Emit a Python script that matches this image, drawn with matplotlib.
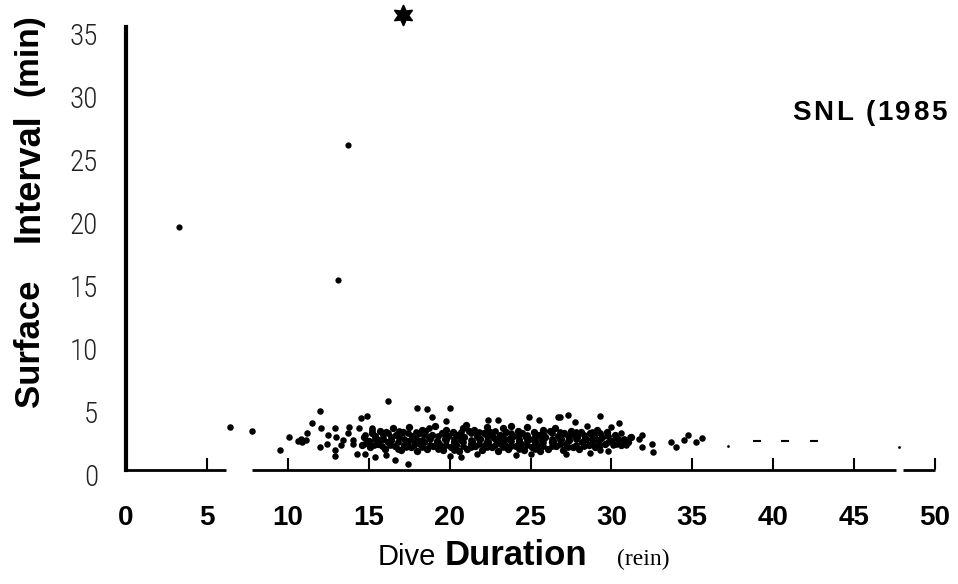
import matplotlib
matplotlib.use("Agg")
import matplotlib.pyplot as plt
import matplotlib.transforms as mtransforms
from matplotlib import font_manager
import numpy as np

# ---------------------------------------------------------------------------
# Data (dive duration, surface interval; minutes)
# ---------------------------------------------------------------------------
# isolated long surface intervals
outlier_pts = [(3.3, 19.3), (13.7, 25.8), (13.1, 15.1)]
star_pt = (17.1, 36.1)

# sparse dives around the main band
sparse_pts = [
    (6.4, 3.4), (7.8, 3.1), (9.5, 1.6), (10.1, 2.6), (12.0, 4.7), (11.5, 3.75),
    (12.05, 3.3), (11.2, 2.9), (10.6, 2.3), (10.9, 2.2), (11.1, 2.4), (10.8, 2.5),
    (12.9, 3.3), (12.5, 2.8), (12.4, 2.1), (12.0, 1.85), (12.9, 1.6), (12.9, 1.1),
    (13.4, 2.4), (13.8, 3.4), (14.5, 4.1), (14.9, 4.3), (14.4, 3.3), (15.2, 3.35),
    (14.05, 2.1), (14.7, 2.1), (14.3, 1.3), (14.8, 1.3), (15.4, 1.05), (15.5, 2.5),
    (13.0, 2.6), (13.3, 2.0), (13.7, 2.9), (14.0, 2.4),
    (16.2, 5.5), (18.0, 4.95), (18.6, 4.85), (20.0, 4.9), (18.9, 4.2), (19.8, 3.9),
    (22.4, 3.95), (23.0, 4.0), (24.9, 4.2), (25.5, 4.0), (26.7, 4.2),
    (16.1, 1.2), (16.6, 0.8), (17.4, 0.5), (20.0, 1.1), (20.7, 1.05), (21.7, 1.3),
    (24.1, 1.2), (25.0, 1.3),
    (26.8, 4.2), (27.3, 4.4), (29.3, 4.3), (27.75, 3.8), (28.5, 3.5), (30.0, 3.45),
    (30.5, 3.7), (30.6, 2.9), (31.15, 2.65), (31.9, 2.8), (31.7, 2.5), (32.5, 2.1),
    (31.9, 1.85), (32.6, 1.45), (33.7, 2.25), (34.0, 1.85), (34.5, 2.4), (34.75, 2.8),
    (35.2, 2.2), (35.6, 2.55), (27.2, 1.25), (28.7, 1.35), (29.3, 1.6), (29.8, 1.5),
    (30.1, 2.0), (30.9, 2.0),
]

# dense band of dives
band_pts = [
    (14.6, 2.0), (14.7, 2.6),
    (15.1, 1.8), (15.0, 2.3), (15.2, 2.9),
    (15.6, 2.1), (15.4, 2.7), (15.7, 3.1),
    (16.0, 1.7), (16.2, 2.2), (15.9, 2.5), (16.1, 3.0),
    (16.6, 1.9), (16.4, 2.4), (16.7, 2.8), (16.5, 3.3),
    (17.0, 1.6), (17.2, 2.0), (16.9, 2.6), (17.1, 3.0),
    (17.6, 1.8), (17.4, 2.3), (17.7, 2.7), (17.5, 3.4),
    (18.0, 1.5), (18.2, 2.1), (17.9, 2.5), (18.1, 2.9), (18.3, 3.2),
    (18.6, 1.7), (18.4, 2.2), (18.7, 2.6), (18.5, 3.1),
    (19.0, 1.9), (19.2, 2.3), (18.9, 2.8), (19.1, 3.5),
    (19.6, 1.6), (19.4, 2.0), (19.7, 2.5), (19.5, 2.9), (19.8, 3.2),
    (20.1, 1.8), (20.3, 2.2), (19.9, 2.7), (20.2, 3.0),
    (20.6, 1.5), (20.4, 2.0), (20.7, 2.4), (20.5, 2.8), (20.8, 3.3),
    (21.1, 1.7), (21.3, 2.1), (20.9, 2.6), (21.2, 3.1), (21.0, 3.6),
    (21.6, 1.9), (21.4, 2.3), (21.7, 2.7), (21.5, 3.2),
    (22.0, 1.6), (22.2, 2.0), (21.9, 2.5), (22.1, 2.9), (22.3, 3.4),
    (22.6, 1.8), (22.4, 2.2), (22.7, 2.6), (22.5, 3.0),
    (23.0, 1.5), (23.2, 2.1), (22.9, 2.4), (23.1, 2.8), (23.3, 3.3),
    (23.6, 1.7), (23.4, 2.0), (23.7, 2.5), (23.5, 3.0), (23.8, 3.5),
    (24.1, 1.9), (24.3, 2.3), (23.9, 2.7), (24.2, 3.1),
    (24.6, 1.6), (24.4, 2.1), (24.7, 2.6), (24.5, 2.9), (24.8, 3.4),
    (25.1, 1.8), (25.3, 2.2), (24.9, 2.5), (25.2, 3.0),
    (25.6, 1.5), (25.4, 2.0), (25.7, 2.4), (25.5, 2.8), (25.8, 3.2),
    (26.1, 1.7), (26.3, 2.2), (25.9, 2.6), (26.2, 3.1),
    (26.6, 1.9), (26.4, 2.3), (26.7, 2.7), (26.5, 3.3),
    (27.0, 1.6), (27.2, 2.1), (26.9, 2.5), (27.1, 2.9),
    (27.6, 1.8), (27.4, 2.4), (27.7, 2.8), (27.5, 3.1),
    (28.0, 1.7), (28.2, 2.2), (27.9, 2.6), (28.1, 3.0),
    (28.6, 2.0), (28.4, 2.5), (28.7, 2.9),
    (29.0, 1.8), (29.2, 2.3), (28.9, 2.7), (29.1, 3.2),
    (29.6, 2.1), (29.4, 2.6), (29.7, 3.0),
    (30.0, 2.3), (30.2, 2.8),
    (30.6, 2.0), (30.4, 2.5),
    (31.0, 2.2), (31.2, 2.6),
]

# in-between dives that make the band look solid
band_fill_pts = [
    (14.9, 2.2), (14.8, 2.8),
    (15.3, 2.0), (15.4, 2.5), (15.2, 3.2),
    (15.8, 1.9), (15.7, 2.4), (15.9, 2.8),
    (16.3, 2.0), (16.4, 2.6), (16.2, 2.9),
    (16.8, 1.7), (16.8, 2.2), (16.9, 3.1),
    (17.3, 1.8), (17.2, 2.5), (17.4, 2.9),
    (17.8, 2.0), (17.8, 2.4), (17.9, 3.0),
    (18.3, 1.8), (18.3, 2.4), (18.4, 2.8),
    (18.8, 2.0), (18.8, 2.5), (18.7, 3.3),
    (19.3, 1.7), (19.3, 2.2), (19.3, 2.7),
    (19.8, 2.0), (19.8, 2.4), (19.8, 2.8),
    (20.3, 1.6), (20.3, 2.5), (20.3, 2.9),
    (20.8, 1.9), (20.8, 2.2), (20.7, 3.0),
    (21.3, 1.8), (21.3, 2.4), (21.3, 2.9),
    (21.8, 2.1), (21.8, 2.5), (21.8, 3.0),
    (22.3, 1.8), (22.3, 2.3), (22.3, 2.7),
    (22.8, 2.0), (22.8, 2.5), (22.8, 3.1),
    (23.3, 1.8), (23.3, 2.3), (23.3, 2.6),
    (23.8, 1.9), (23.8, 2.3), (23.8, 2.9),
    (24.3, 1.7), (24.3, 2.5), (24.3, 2.8),
    (24.8, 2.0), (24.8, 2.3), (24.8, 2.8),
    (25.3, 1.7), (25.3, 2.5), (25.3, 2.7),
    (25.8, 1.9), (25.8, 2.2), (25.8, 2.9),
    (26.3, 1.9), (26.3, 2.5), (26.3, 2.9),
    (26.8, 2.1), (26.8, 2.4), (26.8, 3.0),
    (27.3, 1.8), (27.3, 2.3), (27.3, 2.7),
    (27.8, 2.0), (27.8, 2.5), (27.8, 3.0),
    (28.3, 1.9), (28.3, 2.4), (28.3, 2.8),
    (28.8, 2.1), (28.8, 2.5), (28.8, 3.0),
    (29.3, 2.0), (29.3, 2.5), (29.3, 2.9),
    (29.8, 2.2), (29.8, 2.7),
    (30.3, 2.1), (30.3, 2.6),
    (30.8, 2.3), (30.8, 2.5),
]

# faint marks in the long-dive tail
tail_dash_pts = [(39.0, 2.3), (40.7, 2.3), (42.5, 2.3)]
tail_dot_pts = [(37.2, 1.9), (47.8, 1.85)]

x_ticks = [0, 5, 10, 15, 20, 25, 30, 35, 40, 45, 50]
y_ticks = [0, 5, 10, 15, 20, 25, 30, 35]

# x axis line is broken in the scan
x_axis_segments = [(0, 6.2), (7.8, 47.6), (48.0, 50)]

# ---------------------------------------------------------------------------
# Figure
# ---------------------------------------------------------------------------
names = {f.name for f in font_manager.fontManager.ttflist}
narrow = "DejaVu Sans"
for cand in ["Liberation Sans Narrow", "DejaVu Sans Condensed", "Roboto Condensed"]:
    if cand in names:
        narrow = cand
        break
sans = "Liberation Sans"

fig = plt.figure(figsize=(9.58, 5.84), dpi=100)
ax = fig.add_axes([126 / 958, 114 / 584, 809 / 958, 466 / 584])
ax.set_xlim(0, 50)
ax.set_ylim(0, 37)

for side in ["top", "right", "bottom"]:
    ax.spines[side].set_visible(False)
ax.spines["left"].set_bounds(0, 35.2)
ax.spines["left"].set_linewidth(3)

for x0, x1 in x_axis_segments:
    ax.plot([x0, x1], [0, 0], color="black", lw=2, clip_on=False, solid_capstyle="butt")

# points
for pts, size in [(band_pts, 28), (band_fill_pts, 24), (sparse_pts, 22), (outlier_pts, 20)]:
    arr = np.array(pts)
    ax.scatter(arr[:, 0], arr[:, 1], s=size, c="black", linewidths=0, clip_on=False)

arr = np.array(tail_dash_pts)
ax.scatter(arr[:, 0], arr[:, 1], marker="_", s=40, c="black", linewidths=1.5)
arr = np.array(tail_dot_pts)
ax.scatter(arr[:, 0], arr[:, 1], s=4, c="black", linewidths=0)

ax.plot([star_pt[0]], [star_pt[1]], marker=(6, 1, 0), ms=15, color="black",
        clip_on=False)

# ticks
ax.set_xticks(x_ticks)
ax.set_xticklabels([str(v) for v in x_ticks], fontsize=20, fontweight="bold",
                   family=sans)
ax.tick_params(axis="x", direction="in", length=9, width=1.5, pad=25)

ax.set_yticks(y_ticks)
ax.set_yticklabels([str(v) for v in y_ticks], fontsize=21, family=narrow,
                   fontstretch="condensed", fontweight="light", color="#222222")
ax.tick_params(axis="y", which="major", length=0, pad=20)
ax.set_yticks([5], minor=True)
ax.tick_params(axis="y", which="minor", direction="in", length=8, width=2)
shift = mtransforms.ScaledTranslation(0, -0.05, fig.dpi_scale_trans)
for lab in ax.get_yticklabels():
    lab.set_transform(lab.get_transform() + shift)

# axis titles (mixed weights, placed as separate pieces)
fig.text(29 / 958, 1 - 343 / 584, "Surface", rotation=90, fontsize=25,
         fontweight="bold", family=sans, ha="center", va="center")
fig.text(29 / 958, 1 - 178 / 584, "Interval", rotation=90, fontsize=26,
         fontweight="bold", family=sans, ha="center", va="center")
fig.text(29 / 958, 1 - 55 / 584, "(min)", rotation=90, fontsize=24,
         fontweight="bold", family=sans, ha="center", va="center")

fig.text(378 / 958, 1 - 565 / 584, "Dive", fontsize=21, family=sans,
         ha="left", va="baseline")
fig.text(445 / 958, 1 - 565 / 584, "Duration", fontsize=25, fontweight="bold",
         family=sans, ha="left", va="baseline")
fig.text(617 / 958, 1 - 565 / 584, "(rein)", fontsize=17,
         family="Liberation Serif", ha="left", va="baseline")

# letter-spaced panel tag, cut off at the right edge as in the scan
renderer = fig.canvas.get_renderer()
x_px = 792
for ch in "SNL (1985":
    t = fig.text(x_px / 958, 1 - 120 / 584, ch, fontsize=20, fontweight="bold",
                 family=sans, ha="left", va="baseline")
    x_px += t.get_window_extent(renderer).width + 2.5

fig.savefig("out.png", dpi=100)
